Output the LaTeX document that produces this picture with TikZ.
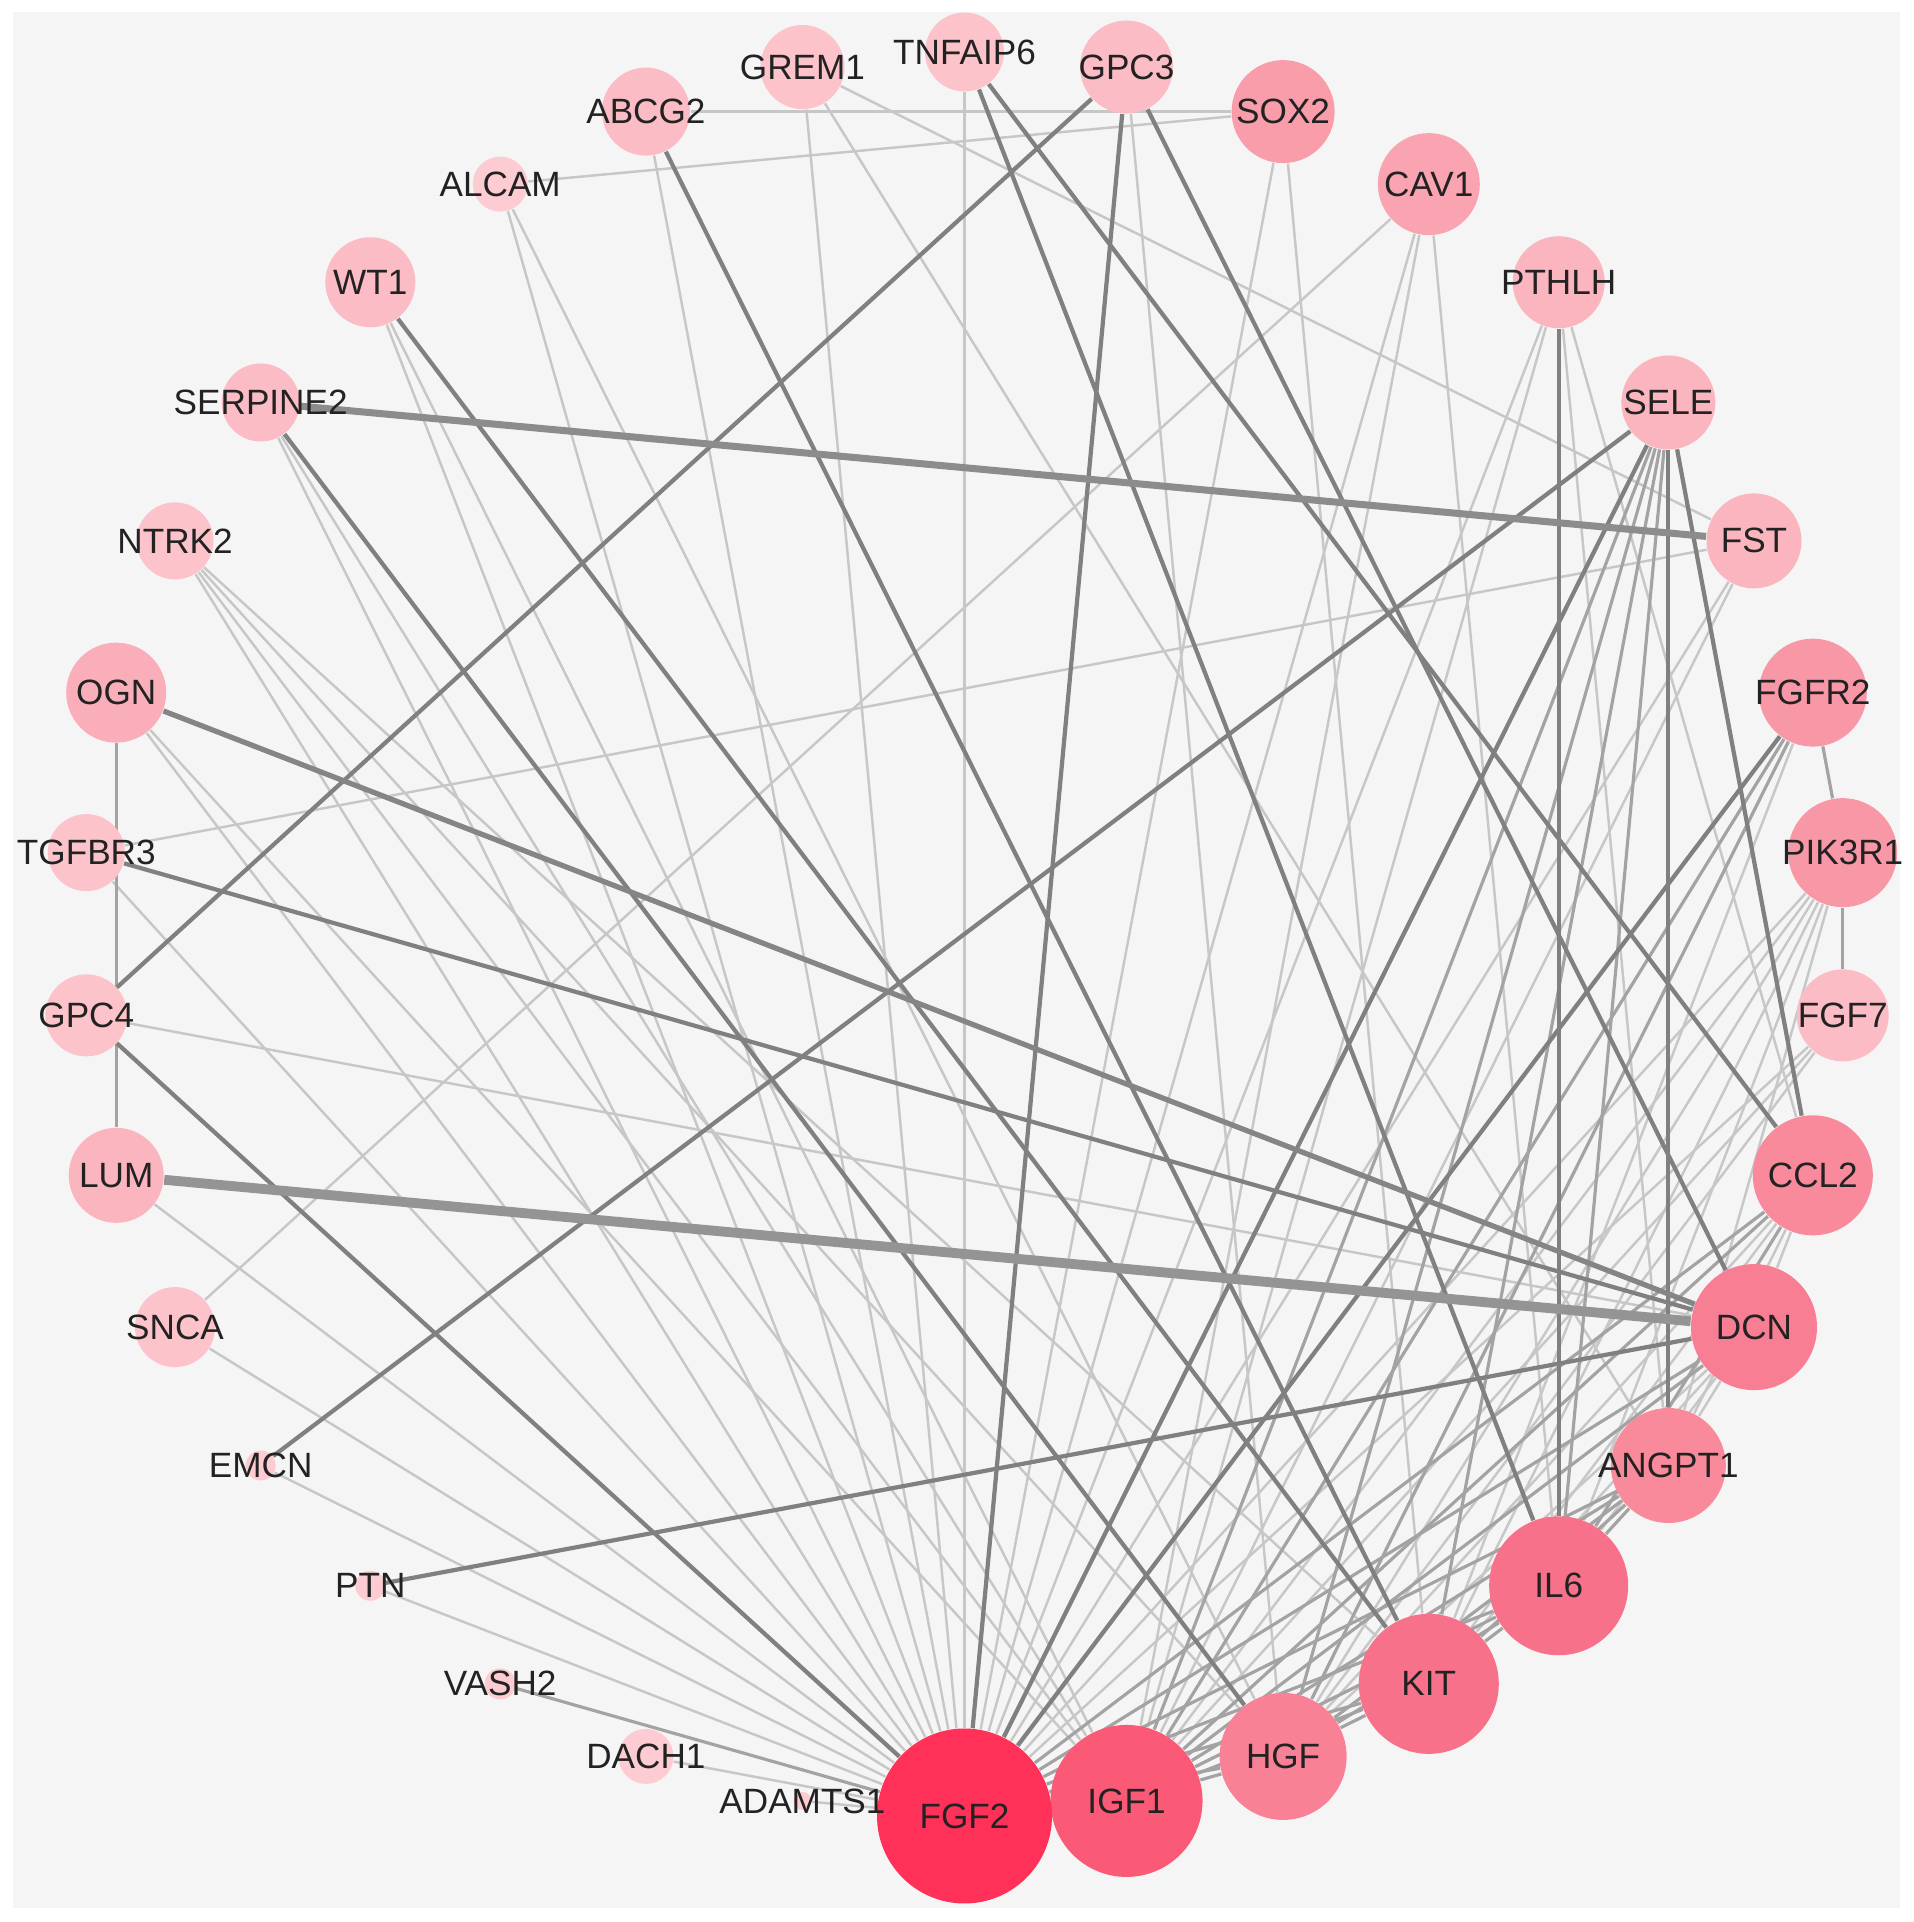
\documentclass[tikz,border=0pt]{standalone}
\usepackage{fontspec}
\setmainfont{Liberation Sans}
\pgfdeclarelayer{panel}
\pgfdeclarelayer{edges}
\pgfsetlayers{panel,edges,main}
\definecolor{panelbg}{HTML}{F5F5F5}
\definecolor{txt}{HTML}{222222}
\definecolor{cFGF2}{HTML}{FF3158}
\definecolor{cIGF1}{HTML}{FB5A77}
\definecolor{cKIT}{HTML}{F8718A}
\definecolor{cHGF}{HTML}{F88196}
\definecolor{cDCN}{HTML}{F77E93}
\definecolor{cANG}{HTML}{F88A9C}
\definecolor{cPIK}{HTML}{F898A7}
\definecolor{cSOX}{HTML}{F99DAA}
\definecolor{cCAV}{HTML}{F9A4B0}
\definecolor{cOGN}{HTML}{FAAEB9}
\definecolor{cLa}{HTML}{FBB5BF}
\definecolor{cLb}{HTML}{FBBCC5}
\definecolor{cLc}{HTML}{FCC3CA}
\definecolor{cLd}{HTML}{FDCCD2}
\tikzset{
  nd/.style={circle,inner sep=0pt,draw=none},
  lbl/.style={font=\fontsize{10}{12}\selectfont,text=txt,inner sep=0pt},
  ethin/.style={draw=black!22,line width=0.7pt},
  emid/.style={draw=black!36,line width=0.9pt},
  edark/.style={draw=black!50,line width=1.2pt},
  ethick/.style={draw=black!42,line width=2.8pt},
  esemi/.style={draw=black!45,line width=2pt},
  ewide/.style={draw=black!48,line width=1.5pt}
}
\begin{document}
\begin{tikzpicture}[x=1cm,y=1cm]
\useasboundingbox (0,0) rectangle (19.13,19.22);
\begin{pgfonlayer}{panel}
\fill[white] (0,0) rectangle (19.13,19.22);
\fill[panelbg] (0.126,0.14) rectangle (19.0,19.10);
\end{pgfonlayer}
\begin{scope}[shift={(9.645,9.88)}]
\foreach \n/\i/\d/\c in {
  TNFAIP6/0/0.79/cLc, GPC3/1/0.93/cLb, SOX2/2/1.03/cSOX, CAV1/3/1.02/cCAV,
  PTHLH/4/0.92/cLa, SELE/5/0.94/cLa, FST/6/0.95/cLa, FGFR2/7/1.08/cPIK,
  PIK3R1/8/1.09/cPIK, FGF7/9/0.92/cLb, CCL2/10/1.20/cANG, DCN/11/1.26/cDCN,
  ANGPT1/12/1.15/cANG, IL6/13/1.39/cKIT, KIT/14/1.40/cKIT, HGF/15/1.27/cHGF,
  IGF1/16/1.52/cIGF1, FGF2/17/1.75/cFGF2, ADAMTS1/18/0.18/cLd, DACH1/19/0.55/cLd,
  VASH2/20/0.31/cLd, PTN/21/0.30/cLd, EMCN/22/0.30/cLd, SNCA/23/0.80/cLc,
  LUM/24/0.95/cLa, GPC4/25/0.82/cLc, TGFBR3/26/0.77/cLc, OGN/27/1.00/cOGN,
  NTRK2/28/0.77/cLc, SERPINE2/29/0.78/cLb, WT1/30/0.90/cLb, ALCAM/31/0.55/cLd,
  ABCG2/32/0.88/cLb, GREM1/33/0.84/cLc}
{
  \node[nd,minimum size=\d cm,fill=\c] (\n) at ({90-\i*360/34}:8.82) {};
}
\end{scope}
\begin{pgfonlayer}{edges}
\foreach \a/\b in {
  TNFAIP6/FGF2, GPC3/HGF, SOX2/ABCG2, SOX2/ALCAM, SOX2/FGF2, SOX2/KIT,
  CAV1/SNCA, CAV1/FGF2, CAV1/IGF1, CAV1/IL6,
  PTHLH/FGF2, PTHLH/IGF1, PTHLH/ANGPT1, PTHLH/CCL2,
  FST/GREM1, FST/TGFBR3, FST/FGF2, FST/IGF1,
  GREM1/FGF2, GREM1/ANGPT1, ABCG2/FGF2, ALCAM/FGF2, ALCAM/HGF,
  WT1/FGF2, WT1/IGF1, SERPINE2/FGF2, SERPINE2/IGF1,
  NTRK2/FGF2, NTRK2/IGF1, NTRK2/HGF, NTRK2/KIT,
  OGN/FGF2, OGN/IGF1, TGFBR3/FGF2, GPC4/DCN, LUM/FGF2, SNCA/FGF2,
  EMCN/FGF2, PTN/FGF2, DACH1/FGF2, ADAMTS1/FGF2,
  FGFR2/KIT, PIK3R1/FGF2, PIK3R1/IGF1, PIK3R1/HGF, PIK3R1/KIT, PIK3R1/IL6, PIK3R1/ANGPT1,
  FGF7/FGF2, FGF7/HGF, FGF7/IGF1, CCL2/HGF, CCL2/KIT, CCL2/ANGPT1, CCL2/DCN,
  DCN/HGF, DCN/IL6, DCN/ANGPT1, DCN/KIT}
  \draw[ethin] (\a) -- (\b);
\foreach \a/\b in {
  SELE/IGF1, SELE/KIT, SELE/IL6, SELE/HGF, FGFR2/PIK3R1, PIK3R1/FGF7,
  FGFR2/IGF1, FGFR2/HGF, VASH2/FGF2, OGN/LUM,
  CCL2/FGF2, CCL2/IGF1, CCL2/IL6, DCN/FGF2, DCN/IGF1,
  ANGPT1/FGF2, ANGPT1/IGF1, ANGPT1/HGF, ANGPT1/KIT, ANGPT1/IL6,
  IL6/FGF2, IL6/IGF1, IL6/HGF, IL6/KIT, KIT/FGF2, KIT/IGF1, KIT/HGF,
  HGF/FGF2, HGF/IGF1, IGF1/FGF2}
  \draw[emid] (\a) -- (\b);
\foreach \a/\b in {
  TNFAIP6/IL6, TNFAIP6/CCL2, GPC3/FGF2, GPC3/DCN, GPC3/GPC4,
  ABCG2/KIT, WT1/KIT, SERPINE2/HGF, SELE/EMCN, SELE/FGF2, SELE/ANGPT1,
  SELE/CCL2, PTHLH/IL6, TGFBR3/DCN, GPC4/FGF2, PTN/DCN, FGFR2/FGF2}
  \draw[edark] (\a) -- (\b);
\draw[ewide] (OGN) -- (DCN);
\draw[esemi] (SERPINE2) -- (FST);
\draw[ethick] (LUM) -- (DCN);
\end{pgfonlayer}
\foreach \n in {TNFAIP6,GPC3,SOX2,CAV1,PTHLH,SELE,FST,FGFR2,PIK3R1,FGF7,CCL2,DCN,
  ANGPT1,IL6,KIT,HGF,IGF1,FGF2,ADAMTS1,DACH1,VASH2,PTN,EMCN,SNCA,LUM,GPC4,
  TGFBR3,OGN,NTRK2,SERPINE2,WT1,ALCAM,ABCG2,GREM1}
  \node[lbl] (t\n) at (\n) {\n};
\end{tikzpicture}
\end{document}
